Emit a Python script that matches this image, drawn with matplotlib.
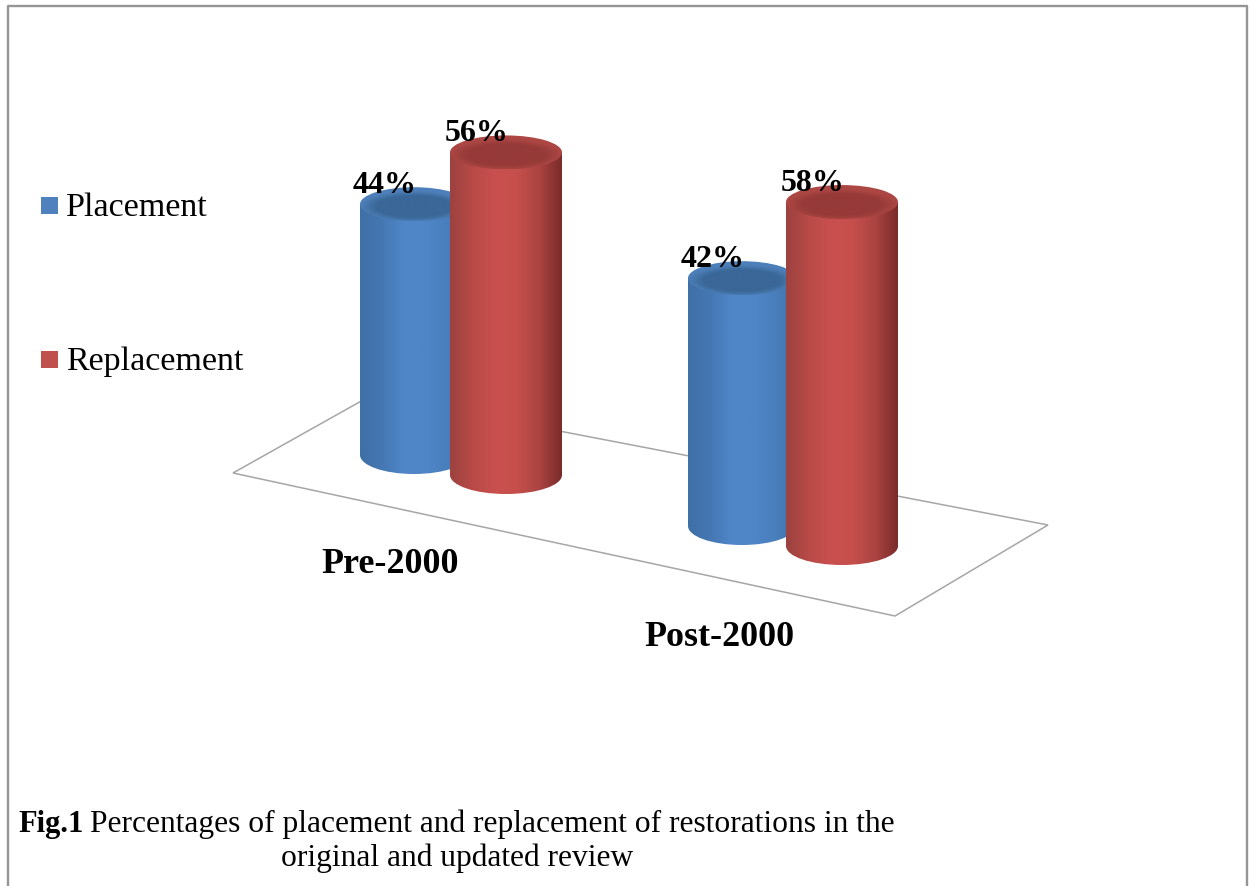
import numpy as np
import matplotlib
matplotlib.use("Agg")
import matplotlib.pyplot as plt
from matplotlib.patches import Ellipse, PathPatch, Polygon, Rectangle
from matplotlib.path import Path

categories = ["Pre-2000", "Post-2000"]
series_names = ["Placement", "Replacement"]
placement = [44, 42]
replacement = [56, 58]

W, H = 1255, 886
SERIF = "Liberation Serif"

fig = plt.figure(figsize=(W / 100, H / 100), dpi=100, facecolor="white")
ax = fig.add_axes([0, 0, 1, 1])
ax.set_xlim(0, W)
ax.set_ylim(H, 0)
ax.axis("off")

# frame, open at the bottom
ax.plot([8, 8, 1247, 1247], [H, 6, 6, H], color="#959595", lw=1.7, zorder=1)

# floor of the 3D chart
ax.add_patch(Polygon([(233, 473), (372, 395), (1048, 525), (895, 616)], closed=True,
                     fc="white", ec="#a6a6a6", lw=1.1, zorder=2))

# cylinder layout: (centre x, base y, px per percent) for each category/series
layout = {
    (0, 0): (414, 455, 5.70),
    (0, 1): (506, 475, 5.76),
    (1, 0): (742, 526, 5.90),
    (1, 1): (842, 546, 5.93),
}
size = {0: (54, 19), 1: (56, 19)}

blue_stops = ["#3f6fa6", "#4577b2", "#4f86c8", "#4f86c8", "#4a7fbd", "#3f72ab"]
red_stops = ["#9c423f", "#b84a47", "#c9504e", "#c64f4c", "#ab4442", "#7a2c2a"]
top_colors = {0: ("#4d80ba", "#3a6797"), 1: ("#ad4744", "#963a38")}


def rgb(c):
    return np.array(matplotlib.colors.to_rgb(c))


def gradient(stops, n=128):
    arr = np.array([rgb(c) for c in stops])
    xs = np.linspace(0, 1, len(stops))
    t = np.linspace(0, 1, n)
    return np.stack([np.interp(t, xs, arr[:, i]) for i in range(3)], axis=-1)[None, :, :]


def cap_image(light, dark, n=120):
    u, v = np.meshgrid(np.linspace(-1, 1, n), np.linspace(-1, 1, n))
    d = np.sqrt((u / 0.88) ** 2 + ((v - 0.15) / 0.8) ** 2)
    t = np.clip((d - 0.8) / 0.35, 0, 1)[..., None]
    return rgb(dark) * (1 - t) + rgb(light) * t


def cylinder(cx, base, ppp, value, rx, ry, stops, top, z):
    top_y = base - value * ppp
    k = 0.5523
    verts = [
        (cx - rx, top_y), (cx - rx, base),
        (cx - rx, base + k * ry), (cx - k * rx, base + ry), (cx, base + ry),
        (cx + k * rx, base + ry), (cx + rx, base + k * ry), (cx + rx, base),
        (cx + rx, top_y), (cx - rx, top_y),
    ]
    codes = [Path.MOVETO, Path.LINETO, Path.CURVE4, Path.CURVE4, Path.CURVE4,
             Path.CURVE4, Path.CURVE4, Path.CURVE4, Path.LINETO, Path.CLOSEPOLY]
    body = PathPatch(Path(verts, codes), transform=ax.transData, fc="none", ec="none")
    ax.add_patch(body)
    im = ax.imshow(gradient(stops), extent=[cx - rx, cx + rx, base + ry, top_y],
                   aspect="auto", zorder=z, interpolation="bilinear")
    im.set_clip_path(body)
    # top cap
    ry_top = 17
    cap = Ellipse((cx, top_y), 2 * rx, 2 * ry_top, fc="none", ec="none")
    ax.add_patch(cap)
    cim = ax.imshow(cap_image(*top), extent=[cx - rx, cx + rx, top_y + ry_top, top_y - ry_top],
                    aspect="auto", zorder=z + 0.1, interpolation="bilinear")
    cim.set_clip_path(cap)
    return top_y


values = [placement, replacement]
z = 3
for c in range(len(categories)):
    for s in range(len(series_names)):
        cx, base, ppp = layout[(c, s)]
        rx, ry = size[s]
        v = values[s][c]
        top_y = cylinder(cx, base, ppp, v, rx, ry, [blue_stops, red_stops][s], top_colors[s], z)
        ax.text(cx - 29, top_y - 11, f"{v}%", family=SERIF, weight="bold", fontsize=23,
                ha="center", va="baseline", color="black", zorder=20)
        z += 1

ax.set_xlim(0, W)
ax.set_ylim(H, 0)

# category labels
ax.text(390, 573, categories[0], family=SERIF, weight="bold", fontsize=25.9,
        ha="center", va="baseline", zorder=20)
ax.text(719.5, 646, categories[1], family=SERIF, weight="bold", fontsize=25.9,
        ha="center", va="baseline", zorder=20)

# legend
for name, col, y0, yb in zip(series_names, ["#4f81bd", "#c0504d"], [197, 351], [216, 370]):
    ax.add_patch(Rectangle((41, y0), 17, 17, fc=col, ec="none", zorder=20))
    ax.text(66, yb, name, family=SERIF, fontsize=24.5, ha="left", va="baseline", zorder=20)

# caption
ax.text(18, 832, "Fig.1", family=SERIF, weight="bold", fontsize=22, ha="left", va="baseline")
ax.text(90, 832, "Percentages of placement and replacement of restorations in the",
        family=SERIF, fontsize=22.65, ha="left", va="baseline")
ax.text(457, 866, "original and updated review", family=SERIF, fontsize=22.65,
        ha="center", va="baseline")

fig.savefig("out.png", dpi=100, facecolor="white")
